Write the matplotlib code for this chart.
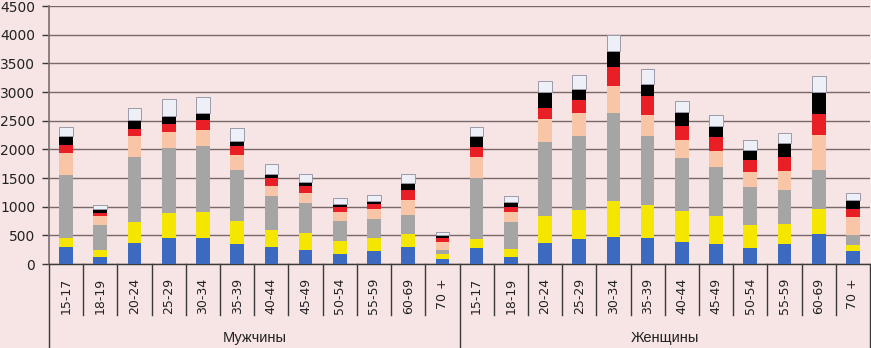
import numpy as np
import matplotlib
matplotlib.use('Agg')
import matplotlib.pyplot as plt
import matplotlib.transforms as mtransforms

ages = ['15-17', '18-19', '20-24', '25-29', '30-34', '35-39', '40-44',
        '45-49', '50-54', '55-59', '60-69', '70 +']
groups = ['Мужчины', 'Женщины']

# segment values, bottom to top, men then women
blue = [296, 122, 365, 452, 452, 348, 290, 244, 174, 226, 290, 93,
        278, 122, 365, 429, 470, 447, 389, 348, 273, 342, 528, 220]
yellow = [156, 127, 360, 430, 447, 406, 296, 301, 220, 221, 226, 81,
          163, 133, 476, 511, 626, 580, 539, 493, 411, 360, 429, 116]
gray = [1097, 430, 1143, 1137, 1154, 882, 597, 522, 360, 342, 337, 70,
        1056, 482, 1282, 1299, 1543, 1212, 928, 847, 662, 586, 690, 163]
peach = [383, 156, 359, 284, 290, 267, 174, 163, 151, 162, 266, 133,
         377, 168, 400, 394, 464, 354, 308, 278, 261, 342, 604, 325]
red = [151, 47, 128, 139, 163, 162, 140, 133, 81, 87, 163, 75,
       174, 81, 203, 221, 331, 330, 249, 244, 203, 238, 359, 139]
black = [156, 69, 162, 133, 127, 81, 75, 70, 58, 64, 127, 47,
         185, 99, 273, 203, 273, 209, 232, 197, 185, 238, 389, 162]
white = [151, 81, 209, 296, 285, 221, 168, 133, 104, 104, 163, 52,
         151, 93, 197, 243, 295, 273, 203, 192, 169, 185, 278, 116]

series = [blue, yellow, gray, peach, red, black, white]
colors = ['#3c6ac0', '#f5e600', '#a5a5a5', '#f8c6a6', '#e82026', '#000000', '#eef0f8']

bg = '#f7e4e4'
fig = plt.figure(figsize=(8.71, 3.48), dpi=100, facecolor=bg)
ax = fig.add_axes([49 / 871, 84 / 348, 821 / 871, 258 / 348])
ax.set_facecolor(bg)

labels = ages + ages
x = np.arange(len(labels))
bottom = np.zeros(len(labels))
for vals, c in zip(series, colors):
    vals = np.array(vals)
    if c == '#eef0f8':
        ax.bar(x, vals, 0.4, bottom=bottom, color=c, edgecolor='#9a9aa8', linewidth=0.7, zorder=3)
    else:
        ax.bar(x, vals, 0.4, bottom=bottom, color=c, linewidth=0, zorder=3)
    bottom += vals

ax.set_xlim(-0.5, len(labels) - 0.5)
ax.set_ylim(0, 4500)
ax.set_yticks(np.arange(0, 4501, 500))
ax.yaxis.grid(True, color='#7a6868', linewidth=1.0, zorder=0)
ax.set_axisbelow(True)
for s in ['top', 'right']:
    ax.spines[s].set_visible(False)
ax.spines['left'].set_color('#7a6e6e')
ax.spines['left'].set_linewidth(1.2)
ax.spines['bottom'].set_color('#3a3a3a')
ax.spines['bottom'].set_linewidth(1.0)
ax.tick_params(axis='y', length=5, width=1, color='#3a3a3a', pad=5, labelsize=10, labelcolor='#222222')

ax.set_xticks(x)
ax.set_xticklabels(labels, rotation=90, fontsize=9, color='#222222')
ax.tick_params(axis='x', length=0, pad=10)

trans = mtransforms.blended_transform_factory(ax.transData, ax.transAxes)
for k in range(len(labels) + 1):
    xs = k - 0.5
    if k in (0, 12, 24):
        y0 = -84 / 258
    else:
        y0 = -51 / 258
    ax.plot([xs, xs], [0, y0], transform=trans, color='#3a3a3a', linewidth=1.0, clip_on=False)

for i, g in enumerate(groups):
    ax.text(5.5 + 12 * i, -74 / 258, g, transform=trans, ha='center', va='center',
            fontsize=10.5, color='#222222', family=['Liberation Sans Narrow', 'Liberation Sans', 'DejaVu Sans'])

fig.savefig('out.png', dpi=100, facecolor=bg)
